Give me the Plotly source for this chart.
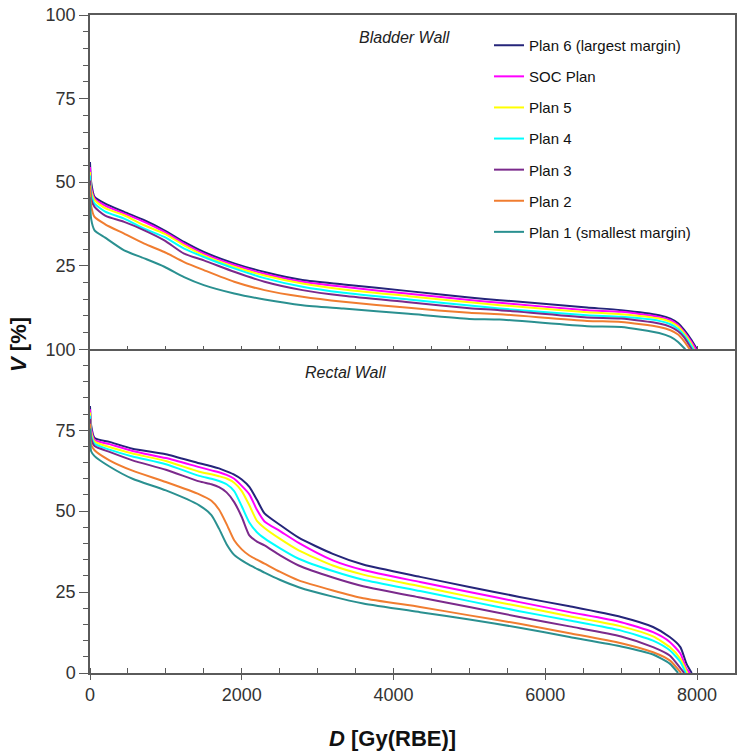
import plotly.graph_objects as go

# ---------------- data ----------------
plan_names = ["Plan 6 (largest margin)", "SOC Plan", "Plan 5", "Plan 4",
              "Plan 3", "Plan 2", "Plan 1 (smallest margin)"]
plan_colors = ["#25257A", "#FF00FF", "#FFFF00", "#00FFFF",
               "#7B2A8C", "#F07D30", "#2A9090"]

# Bladder wall (top panel)
dose_bladder = [0, 15, 60, 200, 450, 715, 980, 1240, 1500, 1900, 2300, 2800,
                3340, 4200, 5000, 5400, 6550, 7000, 7500, 7650, 7750, 7830, 7920]
bladder_plan6 = [56.0, 50.0, 45.6, 43.6, 41.1, 38.6, 35.6, 32.1, 29.1, 25.7, 23.1, 20.7,
                 19.4, 17.4, 15.5, 14.7, 12.5, 11.7, 10.2, 9.2, 7.8, 5.8, 3.0]
bladder_soc = [54.5, 48.5, 45.1, 43.0, 40.6, 38.1, 35.1, 31.6, 28.6, 25.2, 22.6, 20.2,
               18.7, 16.6, 14.75, 13.9, 11.7, 11.2, 9.7, 8.7, 7.3, 5.2, 2.4]
bladder_plan5 = [53.0, 47.5, 44.6, 42.2, 40.1, 37.1, 34.6, 31.1, 28.1, 24.7, 22.1, 19.7,
                 17.9, 15.9, 14.05, 13.2, 11.1, 10.5, 9.2, 8.2, 6.8, 4.8, 1.8]
bladder_plan4 = [52.0, 46.5, 43.6, 41.2, 39.1, 36.1, 33.6, 30.1, 27.6, 24.2, 21.3, 18.7,
                 16.9, 14.9, 13.1, 12.2, 10.2, 9.7, 8.5, 7.5, 6.1, 4.2, 1.2]
bladder_plan3 = [50.5, 45.0, 42.6, 40.0, 38.1, 35.6, 32.6, 28.6, 26.6, 23.2, 20.2, 17.7,
                 16.0, 14.1, 12.3, 11.7, 9.5, 9.2, 7.7, 6.7, 5.4, 3.6, None]
bladder_plan2 = [49.0, 43.0, 39.6, 37.4, 34.6, 31.6, 29.1, 26.1, 23.7, 20.2, 17.7, 15.7,
                 14.2, 12.4, 10.9, 10.5, 8.5, 8.2, 6.7, 5.7, 4.4, 2.4, None]
bladder_plan1 = [45.5, 39.0, 35.6, 33.4, 29.6, 27.2, 24.7, 21.6, 19.2, 16.7, 14.9, 13.2,
                 12.2, 10.6, 9.1, 8.9, 6.9, 6.7, 4.9, 3.7, 2.2, None, None]
bladder_end_dose = [8000, 7985, 7960, 7950, 7930, 7905, 7845]

# Rectal wall (bottom panel)
dose_rectum = [0, 15, 60, 256, 560, 1000, 1440, 1600, 1700, 1800, 1900, 2000, 2100,
               2200, 2300, 2500, 2750, 3200, 3600, 4350, 5000, 5660, 6320, 7000,
               7420, 7640, 7780, 7860]
rectum_plan6 = [82.5, 76.5, 72.6, 71.4, 69.3, 67.6, 64.8, 63.9, 63.2, 62.3, 61.3, 59.8, 57.5,
                53.5, 49.3, 45.8, 41.8, 36.8, 33.5, 29.7, 26.6, 23.5, 20.6, 17.3,
                14.2, 11.1, 8.0, 2.9]
rectum_soc = [81.5, 75.5, 72.0, 70.7, 68.6, 66.4, 63.6, 62.6, 62.0, 61.2, 60.0, 57.8, 55.2,
              50.4, 46.8, 43.9, 40.2, 34.8, 31.8, 28.1, 25.0, 21.9, 18.8, 15.7,
              12.6, 9.6, 6.0, 1.3]
rectum_plan5 = [80.5, 74.5, 71.5, 69.8, 67.8, 65.5, 62.2, 61.4, 60.8, 60.1, 58.8, 56.2, 51.8,
                47.0, 44.8, 41.5, 37.9, 33.2, 30.4, 26.8, 23.6, 20.6, 17.5, 14.4,
                11.3, 8.0, 4.4, None]
rectum_plan4 = [79.5, 73.5, 70.8, 69.0, 66.9, 64.5, 60.9, 60.0, 59.3, 58.3, 56.2, 51.5, 46.5,
                43.5, 41.6, 38.6, 35.3, 31.5, 28.8, 25.3, 22.2, 19.1, 16.2, 13.1,
                10.0, 7.0, 3.4, None]
rectum_plan3 = [78.5, 72.5, 70.1, 68.3, 65.7, 62.8, 59.2, 58.3, 57.4, 55.8, 52.8, 48.2, 42.5,
                40.6, 39.4, 36.4, 33.2, 29.5, 26.8, 23.3, 20.4, 17.3, 14.4, 11.3,
                8.0, 5.4, 1.5, None]
rectum_plan2 = [77.0, 70.5, 68.8, 65.7, 62.5, 59.0, 55.2, 53.2, 50.5, 46.0, 41.0, 38.2, 36.3,
                35.0, 33.8, 31.3, 28.6, 25.5, 23.1, 20.4, 17.8, 15.2, 12.3, 9.2,
                6.4, 3.9, None, None]
rectum_plan1 = [75.5, 68.5, 67.0, 63.8, 60.0, 56.4, 51.8, 48.8, 44.6, 39.8, 36.5, 34.8, 33.4,
                32.2, 31.0, 28.8, 26.5, 23.6, 21.5, 18.8, 16.5, 14.0, 11.1, 8.2,
                5.7, 2.9, None, None]
rectum_end_dose = [7930, 7905, 7870, 7850, 7830, 7790, 7750]

bladder_series = [bladder_plan6, bladder_soc, bladder_plan5, bladder_plan4,
                  bladder_plan3, bladder_plan2, bladder_plan1]
rectum_series = [rectum_plan6, rectum_soc, rectum_plan5, rectum_plan4,
                 rectum_plan3, rectum_plan2, rectum_plan1]

x_ticks = [0, 2000, 4000, 6000, 8000]
y_ticks_bottom = [0, 25, 50, 75, 100]
y_ticks_top = [25, 50, 75, 100]


def curve(doses, values, end_dose):
    xs, ys = [], []
    for d, v in zip(doses, values):
        if v is not None:
            xs.append(d)
            ys.append(v)
    xs.append(end_dose)
    ys.append(0)
    return xs, ys


fig = go.Figure()
FONT = "Liberation Sans, Arial, sans-serif"

for i in range(len(plan_names)):
    xs, ys = curve(dose_bladder, bladder_series[i], bladder_end_dose[i])
    fig.add_trace(go.Scatter(x=xs, y=ys, mode="lines", name=plan_names[i],
                             legendgroup=f"g{i}", xaxis="x2", yaxis="y2",
                             line=dict(color=plan_colors[i], width=2,
                                       shape="spline", smoothing=0.6)))
for i in range(len(plan_names)):
    xs, ys = curve(dose_rectum, rectum_series[i], rectum_end_dose[i])
    fig.add_trace(go.Scatter(x=xs, y=ys, mode="lines", name=plan_names[i],
                             legendgroup=f"g{i}", showlegend=False,
                             xaxis="x", yaxis="y",
                             line=dict(color=plan_colors[i], width=2,
                                       shape="spline", smoothing=0.6)))

AXC = "#5A5A5A"
OX, OY = 0, 0
L, R, T, B = 90, 9, 15, 80
W, H = 744, 753
PW, PH = W - L - R, H - T - B
split = (672.7 - 349) / PH


def px_x(wx):
    return (wx - OX - L) / PW


def px_y(wy):
    return (H - B - (wy - OY)) / PH


fig.update_layout(
    width=W, height=H,
    margin=dict(l=L, r=R, t=T, b=B, autoexpand=False),
    paper_bgcolor="white", plot_bgcolor="white",
    font=dict(family=FONT, size=18, color="#333333"),
    showlegend=True,
    legend=dict(x=px_x(489), y=px_y(29), xanchor="left", yanchor="top",
                bgcolor="rgba(0,0,0,0)", tracegroupgap=8.6,
                font=dict(family=FONT, size=15, color="#111111")),
    xaxis=dict(domain=[0, 1], anchor="y", range=[0, 8500],
               tickvals=x_ticks, ticks="outside", ticklen=5, tickwidth=1.3,
               tickcolor=AXC, showline=True, linecolor=AXC, linewidth=1.5,
               mirror=False, showgrid=False, zeroline=False,
               minor=dict(dtick=500, ticks="inside", ticklen=5, tickwidth=1.2,
                          tickcolor=AXC, showgrid=False),
               tickfont=dict(size=18, color="#333333")),
    yaxis=dict(domain=[0, split], anchor="x", range=[0, 100],
               tickvals=y_ticks_bottom, ticks="outside", ticklen=9, tickwidth=1.3,
               tickcolor=AXC, showline=True, linecolor=AXC, linewidth=1.5,
               mirror=True, showgrid=False, zeroline=False,
               ticklabeloverflow="allow",
               minor=dict(dtick=5, ticks="outside", ticklen=5, tickwidth=1.2,
                          tickcolor=AXC, showgrid=False),
               tickfont=dict(size=18, color="#333333")),
    xaxis2=dict(domain=[0, 1], anchor="y2", range=[0, 8500], matches="x",
                tickmode="linear", tick0=0, dtick=500, ticks="inside", ticklen=4,
                tickwidth=1.2, tickcolor=AXC, showticklabels=False,
                showline=True, linecolor=AXC, linewidth=1.5, mirror=True,
                showgrid=False, zeroline=False),
    yaxis2=dict(domain=[split, 1], anchor="x2", range=[0, 100],
                tickvals=y_ticks_top, ticks="outside", ticklen=9, tickwidth=1.3,
                tickcolor=AXC, showline=True, linecolor=AXC, linewidth=1.5,
                mirror=True, showgrid=False, zeroline=False,
                ticklabeloverflow="allow",
                minor=dict(dtick=5, ticks="outside", ticklen=5, tickwidth=1.2,
                           tickcolor=AXC, showgrid=False),
                tickfont=dict(size=18, color="#333333")),
)

ann = dict(xref="paper", yref="paper", showarrow=False,
           xanchor="center", yanchor="middle")
fig.add_annotation(text="<i>Bladder Wall</i>", x=px_x(404), y=px_y(38),
                   font=dict(family=FONT, size=16, color="#222222"), **ann)
fig.add_annotation(text="<i>Rectal Wall</i>", x=px_x(345), y=px_y(372),
                   font=dict(family=FONT, size=16, color="#222222"), **ann)
fig.add_annotation(text="<b><i>V</i> [%]</b>", x=px_x(18), y=px_y(345),
                   textangle=-90,
                   font=dict(family=FONT, size=22, color="#111111"), **ann)
fig.add_annotation(text="<b><i>D</i> [Gy(RBE)]</b>", x=px_x(392), y=px_y(738),
                   font=dict(family=FONT, size=22, color="#111111"), **ann)

# remove the browser's default 8px page margin so the figure sits at (0, 0)
fig.write_html("out.html", config={"displayModeBar": False},
               post_script="document.body.style.margin='0';")
